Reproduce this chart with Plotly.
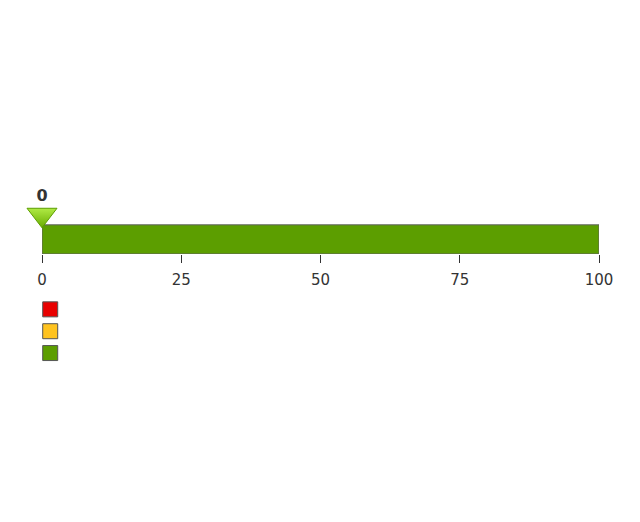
import plotly.graph_objects as go

# Data
value = 0
axis_min = 0
axis_max = 100
tick_values = [0, 25, 50, 75, 100]
tick_labels = ["0", "25", "50", "75", "100"]
range_names = ["Poor", "Satisfactory", "Good"]
range_starts = [0, 0, 0]
range_ends = [0, 0, 100]
range_colors = ["#E80000", "#FFC31F", "#5C9E00"]

fig = go.Figure()

# qualitative ranges (bars)
for name, s, e, c in zip(range_names, range_starts, range_ends, range_colors):
    if e - s > 0:
        fig.add_trace(go.Bar(
            x=[e - s], base=[s], y=[0.5], width=[1], orientation="h",
            marker=dict(color=c, line=dict(color="#606060", width=1)),
            showlegend=False, hoverinfo="skip",
        ))

# value marker
fig.add_trace(go.Scatter(
    x=[value], y=[1.345], mode="markers", cliponaxis=False,
    marker=dict(symbol="triangle-down", size=26, color="#B0EA44",
                gradient=dict(type="vertical", color="#68AC00"),
                line=dict(color="#5C9E00", width=1)),
    showlegend=False, hoverinfo="skip",
))
fig.add_trace(go.Scatter(
    x=[value], y=[1.97], mode="text", text=[str(value)], cliponaxis=False,
    textfont=dict(family="DejaVu Sans", size=16, color="#333333", weight="bold"),
    showlegend=False, hoverinfo="skip",
))

# legend entries
for name, c in zip(range_names, range_colors):
    fig.add_trace(go.Scatter(
        x=[None], y=[None], mode="markers", name=" ",
        marker=dict(symbol="square", size=15, color=c, line=dict(color="#555555", width=1)),
        showlegend=True,
    ))

fig.update_layout(
    width=640, height=522,
    margin=dict(l=34, r=49, t=176.4, b=276, pad=0, autoexpand=False),
    paper_bgcolor="white", plot_bgcolor="white",
    font=dict(family="DejaVu Sans", size=15, color="#333333"),
    barmode="overlay",
    showlegend=True,
    legend=dict(xref="container", yref="container", x=0.0347, y=0.4532,
                xanchor="left", yanchor="top", tracegroupgap=0,
                font=dict(size=14.5), itemwidth=30, bgcolor="rgba(0,0,0,0)"),
    xaxis=dict(range=[axis_min, axis_max], tickvals=tick_values, ticktext=tick_labels,
               ticks="outside", ticklen=8, tickcolor="#333333", tickwidth=1,
               ticklabelstandoff=4,
               showgrid=False, zeroline=False, showline=False, fixedrange=True),
    yaxis=dict(range=[0, 2.4], showticklabels=False, showgrid=False, zeroline=False,
               showline=False, fixedrange=True),
)

fig.write_html("out.html")
